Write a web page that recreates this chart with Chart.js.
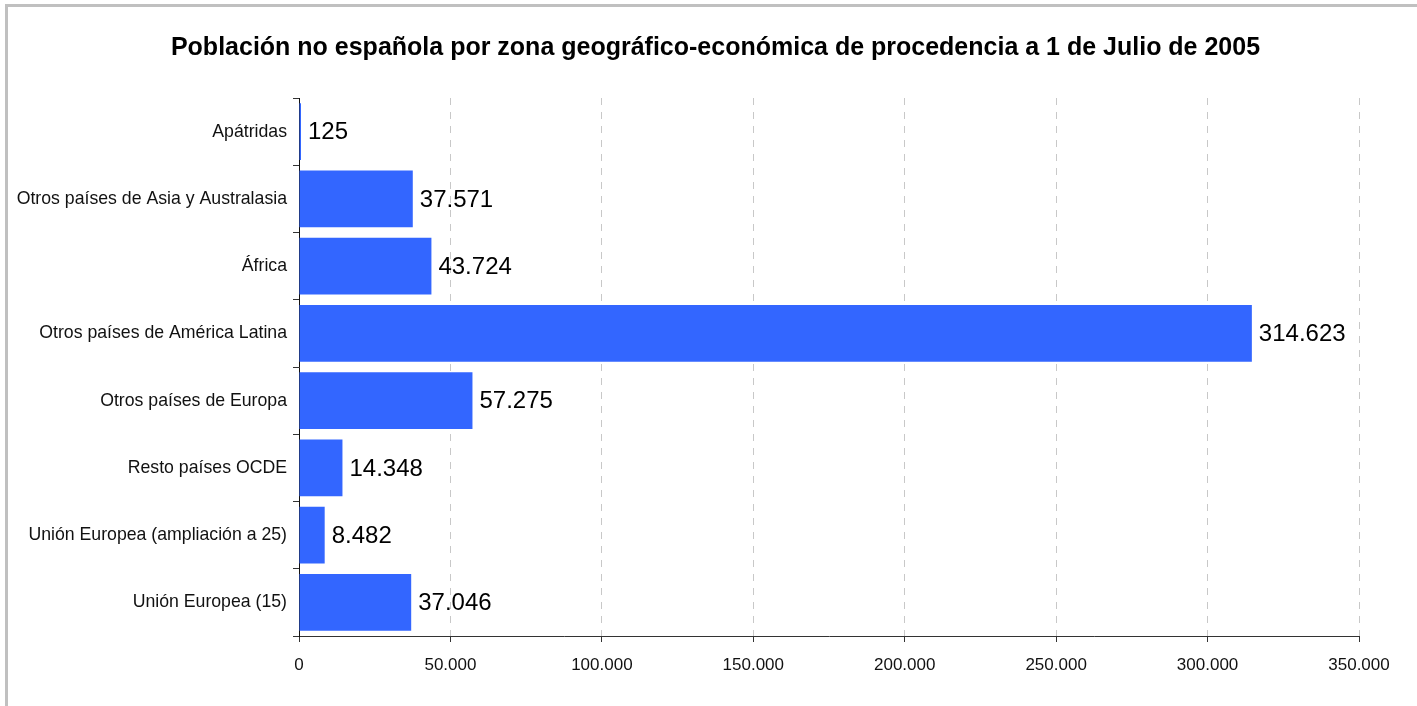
<!DOCTYPE html>
<html>
<head>
<meta charset="utf-8">
<script src="https://cdn.jsdelivr.net/npm/chart.js@4.4.0/dist/chart.umd.min.js"></script>
<style>
  html, body { margin: 0; padding: 0; background: #fff; overflow: hidden; }
  #frame { position: absolute; left: 5px; top: 4px; width: 1600px; height: 900px; border: 3px solid #c0c0c0; }
  #wrap { position: absolute; left: 0; top: 0; width: 1417px; height: 706px; }
</style>
</head>
<body>
<div id="frame"></div>
<div id="wrap"><canvas id="myChart" width="1417" height="706"></canvas></div>
<script>
const chartTitle = "Población no española por zona geográfico-económica de procedencia a 1 de Julio de 2005";
const zonas = [
    "Apátridas",
    "Otros países de Asia y Australasia",
    "África",
    "Otros países de América Latina",
    "Otros países de Europa",
    "Resto países OCDE",
    "Unión Europea (ampliación a 25)",
    "Unión Europea (15)"
];
const poblacion = [125, 37571, 43724, 314623, 57275, 14348, 8482, 37046];
const xMax = 350000;
const xStep = 50000;

function formatEs(n) {
    return String(Math.round(n)).replace(/\B(?=(\d{3})+(?!\d))/g, ".");
}

// etiquetas de valor a la derecha de cada barra
const valueLabels = {
    id: 'valueLabels',
    afterDatasetsDraw(chart) {
        const ctx = chart.ctx;
        const meta = chart.getDatasetMeta(0);
        ctx.save();
        ctx.font = '24px "Liberation Sans", Arial, sans-serif';
        ctx.fillStyle = '#000';
        ctx.textAlign = 'left';
        ctx.textBaseline = 'middle';
        meta.data.forEach((bar, i) => {
            ctx.fillText(formatEs(poblacion[i]), bar.x + 7, bar.y + 1);
        });
        ctx.restore();
    }
};

// título centrado en el marco (no en el área del gráfico)
const frameTitle = {
    id: 'frameTitle',
    afterDraw(chart) {
        const ctx = chart.ctx;
        ctx.save();
        ctx.font = 'bold 25px "Liberation Sans", Arial, sans-serif';
        ctx.fillStyle = '#000';
        ctx.textAlign = 'center';
        ctx.textBaseline = 'middle';
        ctx.fillText(chartTitle, (14 + chart.width) / 2, 48);
        ctx.restore();
    }
};

const ctx = document.getElementById('myChart').getContext('2d');
new Chart(ctx, {
    type: 'bar',
    data: {
        labels: zonas,
        datasets: [{
            data: poblacion,
            backgroundColor: '#3366ff',
            borderWidth: 0,
            minBarLength: 2,
            categoryPercentage: 1,
            barPercentage: 0.845
        }]
    },
    options: {
        indexAxis: 'y',
        responsive: false,
        animation: false,
        layout: { padding: { left: 0, right: 58, top: 98, bottom: 0 } },
        scales: {
            x: {
                min: 0,
                max: xMax,
                ticks: {
                    stepSize: xStep,
                    color: '#111',
                    padding: 13,
                    font: { family: '"Liberation Sans", Arial, sans-serif', size: 17 },
                    callback: v => formatEs(v)
                },
                grid: {
                    color: '#c8c8c8',
                    lineWidth: 1,
                    tickLength: 6,
                    tickColor: '#333',
                    tickBorderDash: []
                },
                border: { display: true, color: '#333', width: 1, dash: [7, 7] },
                afterFit: scale => { scale.height = 70; }
            },
            y: {
                ticks: {
                    color: '#111',
                    padding: 6,
                    font: { family: '"Liberation Sans", Arial, sans-serif', size: 17.7 }
                },
                grid: {
                    drawOnChartArea: false,
                    offset: true,
                    tickLength: 6,
                    tickColor: '#333'
                },
                border: { display: true, color: '#111', width: 1 },
                afterFit: scale => { scale.width = 299; }
            }
        },
        plugins: {
            legend: { display: false },
            tooltip: { enabled: false },
            title: { display: false }
        }
    },
    plugins: [valueLabels, frameTitle]
});
</script>
</body>
</html>
